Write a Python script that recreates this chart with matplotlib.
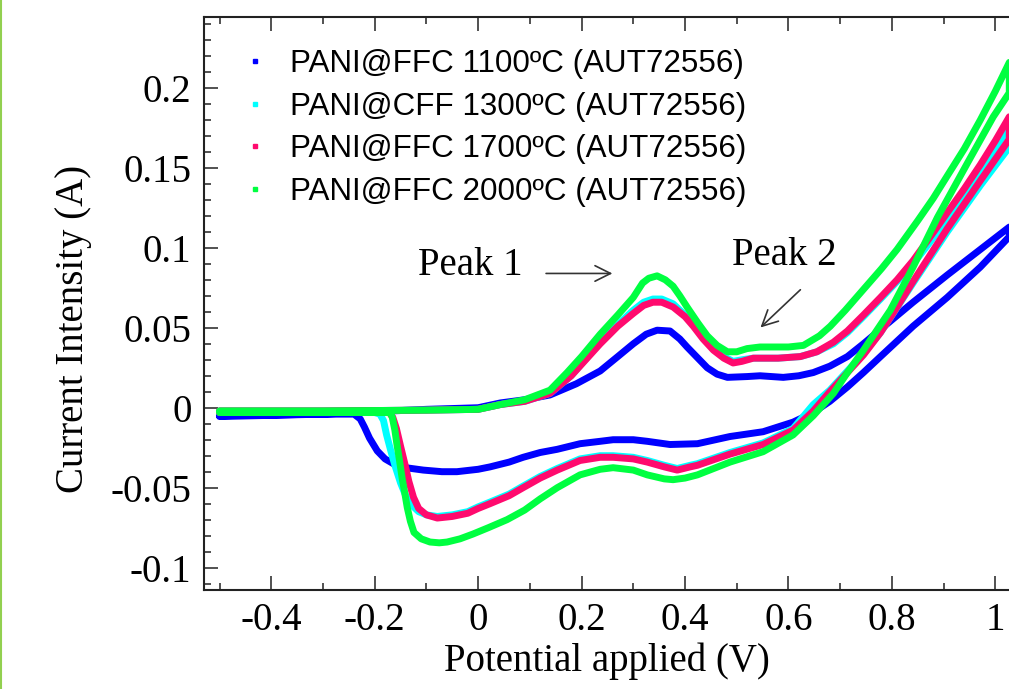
import matplotlib
matplotlib.use('Agg')
import matplotlib.pyplot as plt
from matplotlib.lines import Line2D
from matplotlib.ticker import MultipleLocator, FormatStrFormatter

# Cyclic voltammograms: each list runs the forward scan (-0.5 V -> 1 V)
# and then the reverse scan back to -0.5 V.
v_1100 = [-0.50, -0.30, -0.10, 0.00, 0.043, 0.09, 0.139, 0.19, 0.236, 0.27,
          0.300, 0.325, 0.346, 0.371, 0.39, 0.404, 0.425, 0.443, 0.462, 0.482,
          0.520, 0.545, 0.590, 0.62, 0.648, 0.68, 0.714, 0.745, 0.778, 0.841,
          0.907, 0.971, 1.027,
          1.027, 0.971, 0.907, 0.841, 0.778, 0.745, 0.714, 0.68, 0.648, 0.609,
          0.551, 0.487, 0.424, 0.371, 0.327, 0.30, 0.261, 0.236, 0.197, 0.153,
          0.12, 0.087, 0.06, 0.023, 0.0, -0.041, -0.07, -0.106, -0.14, -0.164,
          -0.18, -0.195, -0.21, -0.220, -0.228, -0.24, -0.30, -0.50]
i_1100 = [-0.0055, -0.004, -0.001, 0.000, 0.003, 0.005, 0.008, 0.015, 0.023, 0.032,
          0.040, 0.046, 0.0485, 0.048, 0.043, 0.038, 0.031, 0.025, 0.021, 0.019,
          0.0195, 0.020, 0.019, 0.020, 0.022, 0.026, 0.032, 0.040, 0.049, 0.066,
          0.083, 0.099, 0.113,
          0.107, 0.088, 0.069, 0.051, 0.032, 0.022, 0.013, 0.004, -0.003, -0.009,
          -0.015, -0.018, -0.0225, -0.023, -0.021, -0.020, -0.020, -0.021, -0.0225, -0.026,
          -0.028, -0.031, -0.034, -0.037, -0.0385, -0.040, -0.040, -0.039, -0.0375, -0.035,
          -0.032, -0.027, -0.019, -0.012, -0.007, -0.004, -0.004, -0.005]

v_1300 = [-0.50, -0.30, -0.10, 0.00, 0.043, 0.09, 0.139, 0.18, 0.236, 0.27,
          0.300, 0.32, 0.338, 0.355, 0.377, 0.40, 0.416, 0.435, 0.455, 0.475,
          0.493, 0.51, 0.532, 0.58, 0.623, 0.655, 0.687, 0.714, 0.745, 0.778,
          0.81, 0.841, 0.87, 0.907, 0.94, 0.971, 1.0, 1.027,
          1.027, 0.971, 0.907, 0.841, 0.778, 0.745, 0.714, 0.68, 0.648, 0.609,
          0.551, 0.487, 0.424, 0.41, 0.385, 0.36, 0.327, 0.30, 0.261, 0.236,
          0.197, 0.153, 0.12, 0.087, 0.06, 0.023, 0.0, -0.02, -0.05, -0.079,
          -0.10, -0.115, -0.128, -0.140, -0.150, -0.160, -0.168, -0.177, -0.183,
          -0.19, -0.20, -0.30, -0.50]
i_1300 = [-0.002, -0.002, -0.0015, -0.001, 0.002, 0.004, 0.009, 0.020, 0.041, 0.052,
          0.061, 0.066, 0.068, 0.068, 0.065, 0.058, 0.052, 0.044, 0.037, 0.032,
          0.029, 0.030, 0.031, 0.031, 0.032, 0.035, 0.040, 0.047, 0.057, 0.068,
          0.079, 0.090, 0.102, 0.118, 0.132, 0.147, 0.162, 0.176,
          0.163, 0.139, 0.110, 0.078, 0.047, 0.034, 0.023, 0.011, 0.002, -0.013,
          -0.022, -0.028, -0.035, -0.036, -0.038, -0.036, -0.033, -0.031, -0.030, -0.030,
          -0.032, -0.038, -0.043, -0.049, -0.054, -0.059, -0.062, -0.065, -0.067, -0.068,
          -0.067, -0.065, -0.061, -0.055, -0.047, -0.037, -0.028, -0.017, -0.008,
          -0.004, -0.003, -0.003, -0.003]

v_1700 = [-0.50, -0.30, -0.10, 0.00, 0.043, 0.09, 0.139, 0.18, 0.236, 0.27,
          0.300, 0.32, 0.338, 0.355, 0.377, 0.40, 0.416, 0.435, 0.455, 0.475,
          0.493, 0.51, 0.532, 0.58, 0.623, 0.655, 0.687, 0.714, 0.745, 0.778,
          0.81, 0.841, 0.87, 0.907, 0.94, 0.971, 1.0, 1.027,
          1.027, 0.971, 0.907, 0.841, 0.81, 0.778, 0.745, 0.714, 0.68, 0.648,
          0.609, 0.551, 0.487, 0.424, 0.41, 0.385, 0.36, 0.327, 0.30, 0.261,
          0.236, 0.197, 0.153, 0.12, 0.087, 0.06, 0.023, 0.0, -0.02, -0.05,
          -0.079, -0.10, -0.115, -0.125, -0.134, -0.141, -0.150, -0.158, -0.165,
          -0.172, -0.20, -0.30, -0.50]
i_1700 = [-0.002, -0.002, -0.0015, -0.001, 0.002, 0.004, 0.009, 0.020, 0.040, 0.051,
          0.059, 0.064, 0.066, 0.066, 0.063, 0.057, 0.051, 0.043, 0.036, 0.031,
          0.028, 0.029, 0.031, 0.031, 0.032, 0.035, 0.041, 0.048, 0.058, 0.069,
          0.080, 0.092, 0.105, 0.122, 0.137, 0.152, 0.167, 0.182,
          0.168, 0.142, 0.112, 0.079, 0.063, 0.047, 0.033, 0.022, 0.010, -0.002,
          -0.014, -0.023, -0.029, -0.036, -0.037, -0.039, -0.037, -0.034, -0.032, -0.031,
          -0.031, -0.033, -0.039, -0.044, -0.050, -0.055, -0.060, -0.063, -0.066, -0.068,
          -0.069, -0.067, -0.063, -0.056, -0.046, -0.036, -0.024, -0.013, -0.006,
          -0.003, -0.003, -0.003, -0.003]

v_2000 = [-0.50, -0.30, -0.10, 0.00, 0.043, 0.09, 0.139, 0.172, 0.20, 0.236,
          0.27, 0.300, 0.318, 0.33, 0.346, 0.362, 0.377, 0.39, 0.404, 0.425,
          0.443, 0.462, 0.482, 0.50, 0.520, 0.545, 0.60, 0.629, 0.66, 0.681,
          0.71, 0.745, 0.78, 0.810, 0.850, 0.88, 0.907, 0.94, 0.971, 1.0, 1.027,
          1.027, 0.996, 0.946, 0.888, 0.841, 0.797, 0.745, 0.714, 0.687, 0.648,
          0.609, 0.551, 0.487, 0.424, 0.40, 0.377, 0.36, 0.327, 0.30, 0.261,
          0.236, 0.197, 0.153, 0.12, 0.09, 0.056, 0.02, -0.010, -0.035, -0.060,
          -0.075, -0.093, -0.11, -0.124, -0.131, -0.137, -0.142, -0.147, -0.152,
          -0.157, -0.161, -0.166, -0.170, -0.20, -0.30, -0.50]
i_2000 = [-0.002, -0.002, -0.0015, -0.001, 0.002, 0.005, 0.011, 0.022, 0.032, 0.046,
          0.058, 0.069, 0.078, 0.081, 0.0825, 0.080, 0.076, 0.070, 0.063, 0.053,
          0.045, 0.039, 0.035, 0.035, 0.037, 0.038, 0.038, 0.039, 0.045, 0.051,
          0.061, 0.074, 0.087, 0.099, 0.117, 0.131, 0.145, 0.162, 0.180, 0.198, 0.216,
          0.197, 0.182, 0.153, 0.119, 0.088, 0.061, 0.036, 0.022, 0.009, -0.005,
          -0.017, -0.0275, -0.034, -0.042, -0.044, -0.045, -0.0445, -0.042, -0.039, -0.0375,
          -0.0385, -0.042, -0.050, -0.057, -0.064, -0.070, -0.075, -0.079, -0.082, -0.084,
          -0.0845, -0.084, -0.082, -0.078, -0.071, -0.0625, -0.053, -0.044, -0.033,
          -0.023, -0.014, -0.006, -0.003, -0.003, -0.003, -0.003]

labels = ['PANI@FFC 1100ºC (AUT72556)', 'PANI@CFF 1300ºC (AUT72556)',
          'PANI@FFC 1700ºC (AUT72556)', 'PANI@FFC 2000ºC (AUT72556)']
colors = ['#0000ff', '#00ffff', '#ff0a6e', '#00ff40']

plt.rcParams['axes.unicode_minus'] = False
serif = 'Liberation Serif'

fig = plt.figure(figsize=(10.09, 6.89), dpi=100)
ax = fig.add_axes([0.2022, 0.1437, 0.8355, 0.8316])

series = [(v_1100, i_1100), (v_1300, i_1300), (v_1700, i_1700), (v_2000, i_2000)]
for (v, i), c in zip(series, colors):
    ax.plot(v, i, color=c, lw=5.0, solid_joinstyle='round', solid_capstyle='round')

ax.set_xlim(-0.53, 1.1)
ax.set_ylim(-0.114, 0.2444)

ax.xaxis.set_major_locator(MultipleLocator(0.2))
ax.xaxis.set_minor_locator(MultipleLocator(0.1))
ax.yaxis.set_major_locator(MultipleLocator(0.05))
ax.yaxis.set_minor_locator(MultipleLocator(0.01))
ax.xaxis.set_major_formatter(FormatStrFormatter('%g'))
ax.yaxis.set_major_formatter(FormatStrFormatter('%g'))

ax.tick_params(which='both', direction='in', top=True, right=True,
               color='#222222', width=1.1)
ax.tick_params(which='major', length=10, labelsize=28, pad=9)
ax.tick_params(which='minor', length=5)
for lbl in ax.get_xticklabels() + ax.get_yticklabels():
    lbl.set_fontfamily(serif)
for sp in ax.spines.values():
    sp.set_linewidth(1.5)
    sp.set_color('#222222')

ax.set_xlabel('Potential applied (V)', fontsize=28, fontfamily=serif)
ax.set_ylabel('Current Intensity (A)', fontsize=28, fontfamily=serif)
ax.xaxis.set_label_coords(0.478, -0.0925)
ax.yaxis.set_label_coords(-0.133, 0.456)

handles = [Line2D([], [], ls='none', marker='s', ms=2.8, color=c, mec=c)
           for c in colors]
ax.legend(handles, labels, loc='upper left', bbox_to_anchor=(0.042, 0.944),
          frameon=False, prop={'family': 'Liberation Sans', 'size': 22.6},
          handlelength=1.0, handletextpad=0.6, labelspacing=0.4,
          borderpad=0, borderaxespad=0, numpoints=1)

ax.text(-0.015, 0.089, 'Peak 1', fontsize=28, fontfamily=serif,
        ha='center', va='center')
ax.text(0.592, 0.095, 'Peak 2', fontsize=28, fontfamily=serif,
        ha='center', va='center')
arrow = dict(arrowstyle='->', color='#333333', lw=1.2, mutation_scale=28)
ax.annotate('', xy=(0.265, 0.084), xytext=(0.126, 0.084), arrowprops=arrow)
ax.annotate('', xy=(0.542, 0.049), xytext=(0.627, 0.075), arrowprops=arrow)

# thin green rule along the left edge of the page
fig.add_artist(Line2D([0.001, 0.001], [0, 1], transform=fig.transFigure,
                      color='#92d050', lw=1.5))

fig.savefig('out.png', dpi=100)
